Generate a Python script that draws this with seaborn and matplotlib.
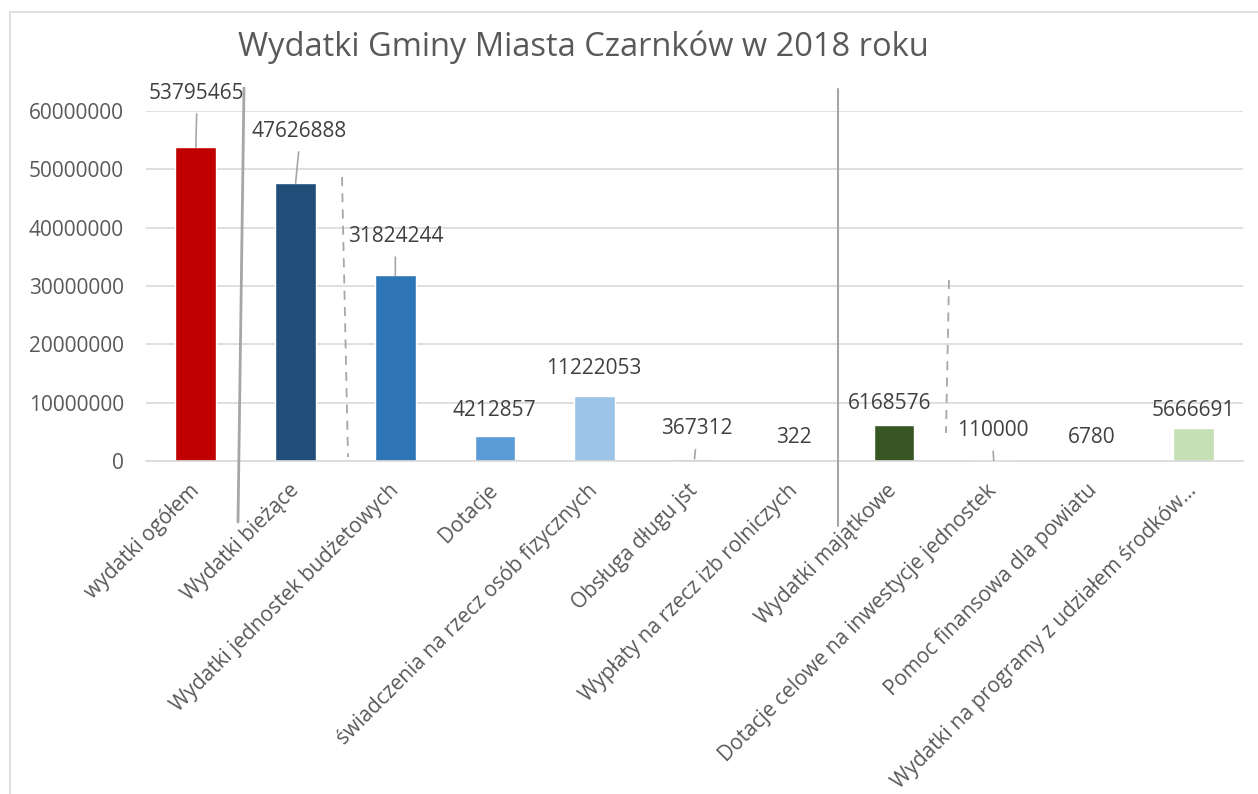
# Wydatki Gminy Miasta Czarnków w 2018 roku - bar chart
import numpy as np
import pandas as pd
import seaborn as sns
import matplotlib.pyplot as plt
from matplotlib.lines import Line2D
from matplotlib.patches import Rectangle

# Data
categories = [
    'wydatki ogółem',
    'Wydatki bieżące',
    'Wydatki jednostek budżetowych',
    'Dotacje',
    'świadczenia na rzecz osób fizycznych',
    'Obsługa długu jst',
    'Wypłaty na rzecz izb rolniczych',
    'Wydatki majątkowe',
    'Dotacje celowe na inwestycje jednostek',
    'Pomoc finansowa dla powiatu',
    'Wydatki na programy z udziałem środków…',
]
values = [53795465, 47626888, 31824244, 4212857, 11222053, 367312,
          322, 6168576, 110000, 6780, 5666691]
bar_colors = ['#C00000', '#1F4E79', '#2E75B6', '#5B9BD5', '#9DC3E6', '#5B9BD5',
              '#5B9BD5', '#375623', '#548235', '#A9D18E', '#C5E0B4']
y_ticks = [0, 10000000, 20000000, 30000000, 40000000, 50000000, 60000000]

# label offsets in pixels (dx, dy above bar top) and whether a leader line is drawn
label_offsets = [(1, 54), (4, 52), (0, 39), (-1, 26), (-1, 27), (2, 30),
                 (0, 23), (-4, 22), (-1, 30), (-2, 23), (0, 17)]
leaders = [True, True, True, False, False, True, False, False, True, False, False]

df = pd.DataFrame({'kategoria': categories, 'kwota': values})

sns.set_style('white')
plt.rcParams['font.family'] = ['Open Sans', 'DejaVu Sans']

W, H = 1258, 794
fig = plt.figure(figsize=(W / 100, H / 100), dpi=100)
ax = fig.add_axes([146 / W, 1 - 461 / H, 1097 / W, 350 / H])

sns.barplot(data=df, x='kategoria', y='kwota', hue='kategoria',
            palette=bar_colors, width=0.41, legend=False, ax=ax, saturation=1)

ax.set_ylim(0, 60000000)
ax.set_xlim(-0.5, len(categories) - 0.5)
ax.set_yticks(y_ticks)
ax.set_yticklabels([str(t) for t in y_ticks])
ax.set_xlabel('')
ax.set_ylabel('')
ax.grid(axis='y', color='#D9D9D9', lw=1.2)
ax.set_axisbelow(True)
for s in ['top', 'right', 'left']:
    ax.spines[s].set_visible(False)
ax.spines['bottom'].set_color('#D9D9D9')
ax.spines['bottom'].set_linewidth(1.2)
ax.tick_params(axis='y', length=0, pad=16, labelsize=15, labelcolor='#595959')
ax.tick_params(axis='x', length=0, pad=19, labelsize=15, labelcolor='#595959')
for lab in ax.get_xticklabels():
    lab.set_rotation(45)
    lab.set_ha('right')
    lab.set_va('center')
    lab.set_rotation_mode('anchor')

# data labels
for i, v in enumerate(values):
    dx, dy = label_offsets[i]
    kw = {}
    if leaders[i]:
        kw['arrowprops'] = dict(arrowstyle='-', color='#A6A6A6', lw=1.2,
                                shrinkA=5, shrinkB=0, relpos=(0.5, 0))
    ax.annotate(str(v), xy=(i, v), xytext=(dx, dy), textcoords='offset pixels',
                ha='center', va='center', fontsize=15, color='#404040',
                annotation_clip=False, **kw)

# title
fig.text(583 / W, 1 - 47 / H, 'Wydatki Gminy Miasta Czarnków w 2018 roku',
         ha='center', va='center', fontsize=23.5, color='#595959')


def px(x, y):
    return x / W, 1 - y / H


# drawn separator lines
for (x1, y1), (x2, y2), style, lw in [((244, 88), (238, 522), '-', 2),
                                      ((838, 89), (838, 526), '-', 1.5),
                                      ((342, 177), (348, 457), (0, (5, 4)), 1.3),
                                      ((949, 280), (946, 433), (0, (5, 4)), 1.3)]:
    a, b = px(x1, y1)
    c, d = px(x2, y2)
    fig.add_artist(Line2D([a, c], [b, d], transform=fig.transFigure,
                          color='#A6A6A6', lw=lw, linestyle=style))

# chart area border
fig.add_artist(Rectangle(px(10, 800), 1300 / W, 788 / H, transform=fig.transFigure,
                         fill=False, edgecolor='#D9D9D9', lw=1.2))

plt.savefig('out.png', dpi=100)
